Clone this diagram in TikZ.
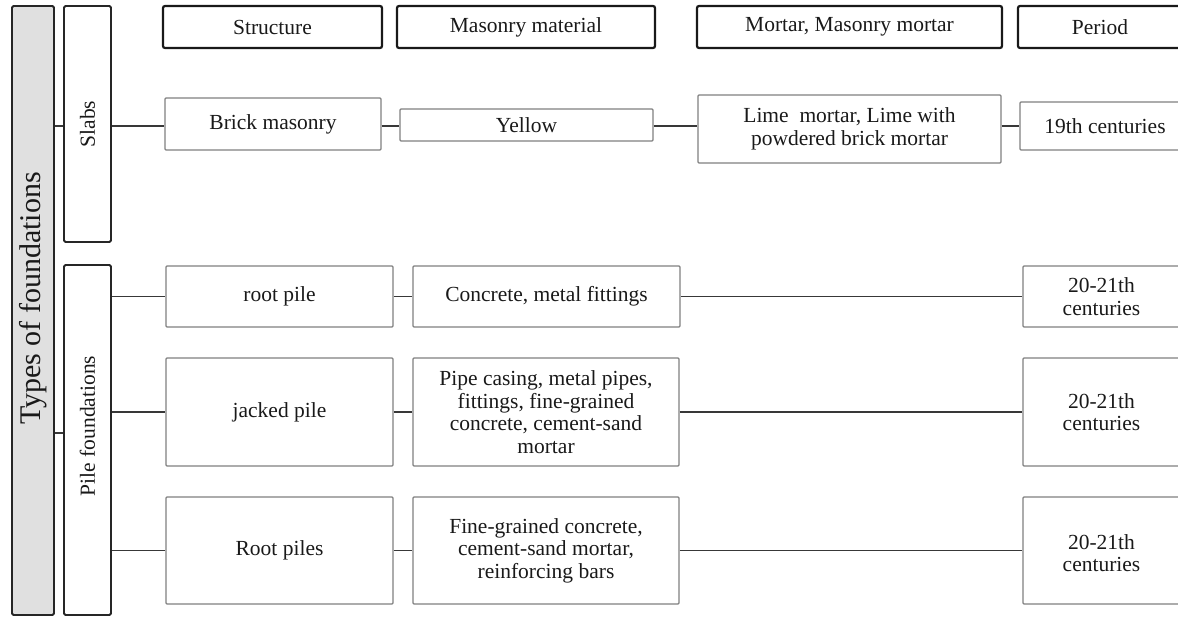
\documentclass[tikz,border=0pt]{standalone}
\usepackage{fontspec}
\usepackage{graphicx}
\setmainfont{Liberation Serif}
\begin{document}
\begin{tikzpicture}[x=1pt,y=-1pt,
  base/.style={draw, inner sep=0pt, align=center, font=\fontsize{21.5}{22.5}\selectfont, text=black!90},
  hdr/.style={base, draw=black!90, line width=2.2pt, rounded corners=2pt},
  cell/.style={base, draw=black!50, line width=1.1pt, rounded corners=1pt},
  grp/.style={base, draw=black!85, line width=1.8pt, rounded corners=1.5pt},
  link/.style={draw=black!78, line width=1.3pt},
]
\useasboundingbox (0,0) rectangle (1178,617);
\clip (0,0) rectangle (1178,617);

% left group boxes
\node[grp, fill=black!12, minimum width=42pt, minimum height=609pt,
      font=\fontsize{30}{32}\selectfont] (types) at (33,310.5) {\rotatebox{90}{\hspace*{24pt}Types of foundations}};
\node[grp, minimum width=47pt, minimum height=236pt] (slabs) at (87.5,124) {\rotatebox{90}{Slabs}};
\node[grp, minimum width=47pt, minimum height=350pt] (pile) at (87.5,440) {\rotatebox{90}{\hspace*{28pt}Pile foundations}};

% headers
\node[hdr, minimum width=219pt, minimum height=42pt] (hstruct) at (272.5,27) {Structure};
\node[hdr, minimum width=258pt, minimum height=42pt] (hmat) at (526,27) {Masonry material};
\node[hdr, minimum width=305pt, minimum height=42pt] (hmort) at (849.5,27) {Mortar, Masonry mortar};
\node[hdr, minimum width=164pt, minimum height=42pt] (hper) at (1100,27) {Period};

% row 1 (slabs)
\coordinate (y1) at (0,126);
\node[cell, minimum width=216pt, minimum height=52pt] (brick) at (273,124) {Brick masonry};
\node[cell, minimum width=253pt, minimum height=32pt] (yellow) at (526.5,125) {Yellow};
\node[cell, minimum width=303pt, minimum height=68pt] (lime) at (849.5,129) {Lime\ \ mortar, Lime with\\powdered brick mortar};
\node[cell, minimum width=170pt, minimum height=48pt] (p19) at (1105,126) {19th centuries};

% row 2
\node[cell, minimum width=227pt, minimum height=61pt] (root) at (279.5,296.5) {root pile};
\node[cell, minimum width=267pt, minimum height=61pt] (conc) at (546.5,296.5) {Concrete, metal fittings};
\node[cell, minimum width=157pt, minimum height=61pt] (p20a) at (1101.5,296.5) {20-21th\\centuries};

% row 3
\node[cell, minimum width=227pt, minimum height=108pt] (jacked) at (279.5,412) {jacked pile};
\node[cell, minimum width=266pt, minimum height=108pt] (pipe) at (546,412) {Pipe casing, metal pipes,\\fittings, fine-grained\\concrete, cement-sand\\mortar};
\node[cell, minimum width=157pt, minimum height=108pt] (p20b) at (1101.5,412) {20-21th\\centuries};

% row 4
\node[cell, minimum width=227pt, minimum height=107pt] (rootp) at (279.5,550.5) {Root piles};
\node[cell, minimum width=266pt, minimum height=107pt] (fine) at (546,550.5) {Fine-grained concrete,\\cement-sand mortar,\\reinforcing bars};
\node[cell, minimum width=157pt, minimum height=107pt] (p20c) at (1101.5,550.5) {\\[-2pt]20-21th\\centuries};

% connectors
\coordinate (y2) at (0,433);
\draw[link] (types.east |- y1) -- (slabs.west |- y1);
\draw[link] (types.east |- y2) -- (pile.west |- y2);
\draw[link] (slabs.east |- y1) -- (brick.west |- y1);
\draw[link] (brick.east |- y1) -- (yellow.west |- y1);
\draw[link] (yellow.east |- y1) -- (lime.west |- y1);
\draw[link] (lime.east |- y1) -- (p19.west |- y1);

\draw[link] (pile.east |- root.west) -- (root.west);
\draw[link] (root.east) -- (conc.west);
\draw[link] (conc.east) -- (p20a.west);

\draw[link] (pile.east |- jacked.west) -- (jacked.west);
\draw[link] (jacked.east) -- (pipe.west);
\draw[link] (pipe.east) -- (p20b.west);

\draw[link] (pile.east |- rootp.west) -- (rootp.west);
\draw[link] (rootp.east) -- (fine.west);
\draw[link] (fine.east) -- (p20c.west);
\end{tikzpicture}
\end{document}
